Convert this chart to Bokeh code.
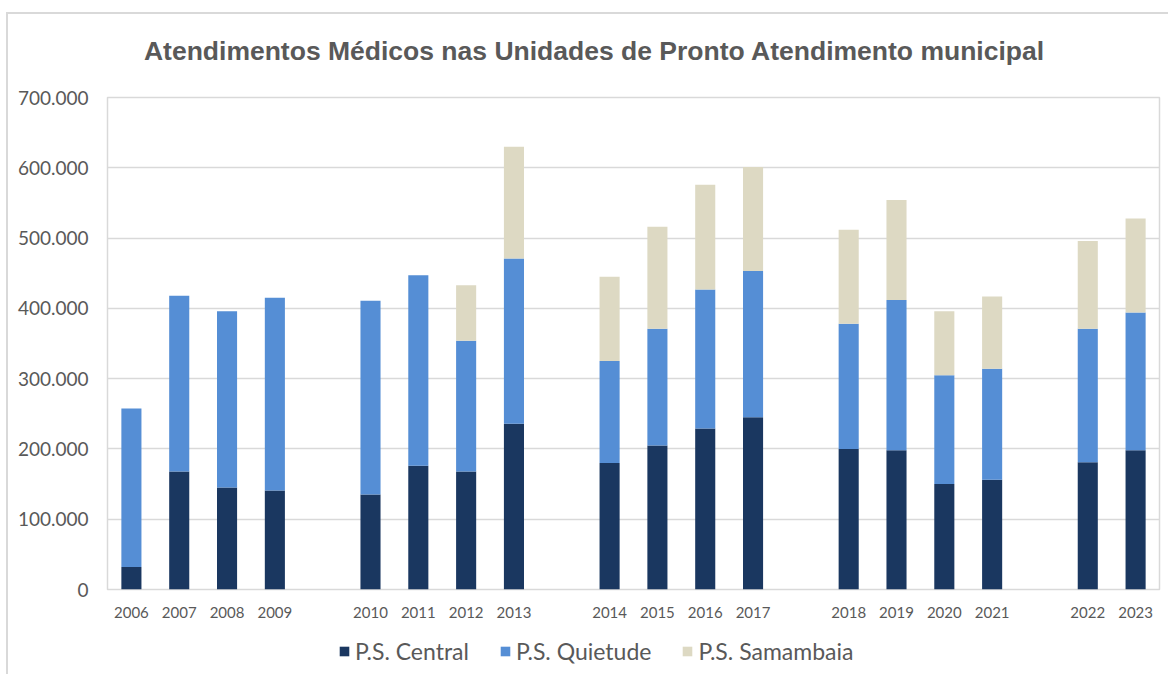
from bokeh.plotting import figure
from bokeh.layouts import column
from bokeh.models import ColumnDataSource, FactorRange, CustomJSTickFormatter, Legend, Label
from bokeh.embed import file_html
from bokeh.resources import INLINE

# ---- data ----
groups = [
    ["2006", "2007", "2008", "2009"],
    ["2010", "2011", "2012", "2013"],
    ["2014", "2015", "2016", "2017"],
    ["2018", "2019", "2020", "2021"],
    ["2022", "2023"],
]
central = [32000, 168000, 145000, 141000,
           135000, 176000, 168000, 236000,
           180000, 205000, 229000, 245000,
           200000, 198000, 150000, 156000,
           181000, 198000]
quietude = [225500, 250000, 251000, 274000,
            276000, 271000, 186000, 235000,
            145000, 166000, 198000, 208000,
            178000, 214000, 155000, 158000,
            190000, 196000]
samambaia = [0, 0, 0, 0,
             0, 0, 79000, 159000,
             120000, 145000, 149000, 148000,
             134000, 142000, 91000, 103000,
             125000, 134000]
series = ["P.S. Central", "P.S. Quietude", "P.S. Samambaia"]
colors = ["#1A3760", "#558ED5", "#DDD9C3"]
y_ticks = [0, 100000, 200000, 300000, 400000, 500000, 600000, 700000]
title_text = "Atendimentos Médicos nas Unidades de Pronto Atendimento municipal"

# ---- build factors with blank gap slots ----
years = [y for g in groups for y in g]
factors = []
for i, g in enumerate(groups):
    factors.extend(g)
    if i < len(groups) - 1:
        factors.append(" " * (i + 1))

source = ColumnDataSource(dict(year=years, central=central,
                               quietude=quietude, samambaia=samambaia))

TXT = "#595959"


def blank_strip(h):
    f = figure(width=1160, height=h, x_range=(0, 1), y_range=(0, 1),
               output_backend="svg", toolbar_location=None, min_border=0,
               title=None)
    f.axis.visible = False
    f.grid.visible = False
    f.outline_line_color = None
    f.border_fill_color = "white"
    f.background_fill_color = "white"
    return f


# ---- title strip ----
tfig = blank_strip(72)
tfig.add_layout(Label(x=0.5, y=0.5, x_offset=-39, text=title_text,
                      text_align="center", text_baseline="middle",
                      text_font="Liberation Sans", text_font_style="bold",
                      text_font_size="26.5px", text_color=TXT))

# ---- main chart ----
p = figure(x_range=FactorRange(factors=factors, range_padding=0),
           y_range=(0, 700000),
           frame_width=1052, frame_height=492, title=None,
           output_backend="svg", toolbar_location=None,
           min_border_left=99, min_border_right=9,
           min_border_top=11, min_border_bottom=35)

p.vbar_stack(["central", "quietude", "samambaia"], x="year", width=0.42,
             color=colors, line_color=None, source=source)

p.outline_line_color = "#D9D9D9"
p.outline_line_width = 1.5
p.border_fill_color = "white"
p.background_fill_color = "white"

p.xgrid.grid_line_color = None
p.ygrid.grid_line_color = "#D9D9D9"
p.ygrid.grid_line_width = 1.5
p.yaxis.ticker = y_ticks
p.yaxis.formatter = CustomJSTickFormatter(
    code="return tick.toFixed(0).replace(/\\B(?=(\\d{3})+(?!\\d))/g, '.');")
for ax in (p.xaxis, p.yaxis):
    ax.axis_line_color = None
    ax.major_tick_line_color = None
    ax.minor_tick_line_color = None
    ax.major_label_text_color = TXT
    ax.major_label_text_font = "Lato"
p.yaxis.major_label_text_font_size = "19px"
p.yaxis.major_label_standoff = 13
p.xaxis.major_label_text_font_size = "15px"
p.xaxis.major_label_standoff = 7

# ---- legend strip (separate figure below the chart) ----
leg = blank_strip(50)
# zero-height placeholder bars: they only lend their colour to the legend swatches
dummies = [leg.vbar(x=[0], top=[0], width=0.0, color=c, line_color=None)
           for c in colors]
legend = Legend(items=[(series[i], [dummies[i]]) for i in range(3)],
                orientation="horizontal", location=(231, 9),
                border_line_color=None, background_fill_alpha=0,
                glyph_width=12, glyph_height=12, label_standoff=5,
                spacing=30, padding=0, margin=0,
                label_text_font="Lato", label_text_font_size="23px",
                label_text_color=TXT)
leg.add_layout(legend, "center")

layout = column(tfig, p, leg, spacing=0,
                styles={"margin-left": "6px", "margin-top": "12px",
                        "border-left": "2px solid #D9D9D9",
                        "border-top": "2px solid #D9D9D9"})

open("out.html", "w").write(file_html(layout, INLINE))
